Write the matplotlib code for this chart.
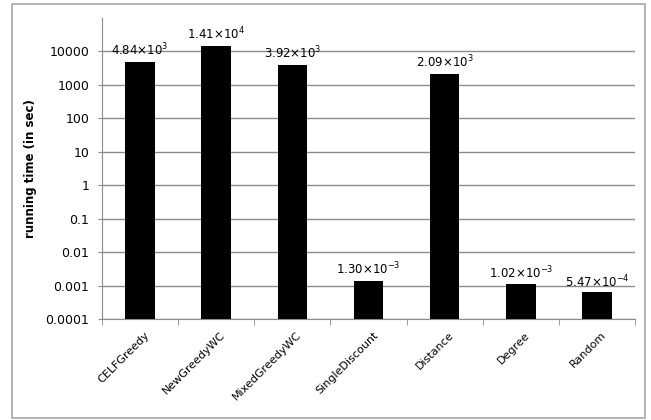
import matplotlib.pyplot as plt
from matplotlib.patches import Rectangle
from matplotlib.transforms import ScaledTranslation

methods = ['CELFGreedy', 'NewGreedyWC', 'MixedGreedyWC', 'SingleDiscount',
           'Distance', 'Degree', 'Random']
times = [4840, 14100, 3920, 1.30e-3, 2090, 1.02e-3, 5.47e-4]
labels = [r'4.84$\times$10$^{3}$', r'1.41$\times$10$^{4}$', r'3.92$\times$10$^{3}$',
          r'1.30$\times$10$^{-3}$', r'2.09$\times$10$^{3}$', r'1.02$\times$10$^{-3}$',
          r'5.47$\times$10$^{-4}$']
yticks = [1e-4, 1e-3, 1e-2, 1e-1, 1, 10, 100, 1000, 10000]
ytick_labels = ['0.0001', '0.001', '0.01', '0.1', '1', '10', '100', '1000', '10000']

plt.rcParams['mathtext.default'] = 'regular'
grid_col = '#8c8c8c'

fig = plt.figure(figsize=(6.51, 4.2), dpi=100)
fig.patches.append(Rectangle((12 / 651, 1 - 418 / 420), 633 / 651, 414 / 420,
                             transform=fig.transFigure, fill=False,
                             edgecolor='#a6a6a6', linewidth=1.2))
ax = fig.add_axes([102 / 651, 1 - 319 / 420, 533 / 651, 301 / 420])

x = range(len(methods))
ax.bar(x, times, width=0.39, color='black', zorder=3, bottom=1e-4)
for i, (v, lab) in enumerate(zip(times, labels)):
    ax.annotate(lab, (i, v), xytext=(0, 3), textcoords='offset points',
                ha='center', va='bottom', fontsize=8.5)

ax.set_yscale('log')
ax.set_ylim(1e-4, 1e5)
ax.set_xlim(-0.5, len(methods) - 0.5)
ax.set_yticks(yticks)
ax.set_yticklabels(ytick_labels, fontsize=9)
ax.minorticks_off()
ax.yaxis.grid(True, color=grid_col, linewidth=1, zorder=0)
ax.set_axisbelow(True)

ax.set_xticks([i + 0.5 for i in range(-1, len(methods))], minor=True)
ax.set_xticks(list(x))
ax.set_xticklabels(methods, rotation=45, ha='right', rotation_mode='anchor',
                   fontsize=8)
ax.tick_params(axis='x', which='major', length=0, pad=8)
ax.tick_params(axis='x', which='minor', length=4, color=grid_col, direction='out')
ax.tick_params(axis='y', length=3, color=grid_col, pad=6)
for lab in ax.get_xticklabels():
    lab.set_transform(lab.get_transform() + ScaledTranslation(3 / 72, 0, fig.dpi_scale_trans))

for s in ['top', 'right']:
    ax.spines[s].set_visible(False)
for s in ['left', 'bottom']:
    ax.spines[s].set_color(grid_col)

ax.set_ylabel('running time (in sec)', fontsize=8.5, fontweight='bold', labelpad=6)

fig.savefig('out.png', dpi=100)
